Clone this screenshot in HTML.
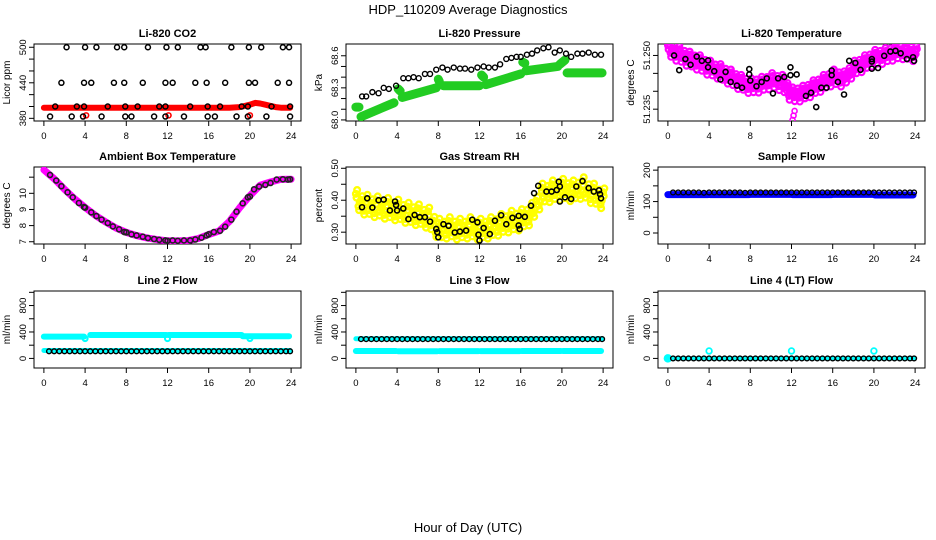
<!DOCTYPE html>
<html><head><meta charset="utf-8"><style>
html,body{margin:0;padding:0;background:#fff;}
svg{display:block;font-family:"Liberation Sans",Arial,sans-serif;}
</style></head><body>
<svg id="chart" width="936" height="540" viewBox="0 0 936 540">
<text x="468" y="14" text-anchor="middle" font-size="13">HDP_110209  Average Diagnostics</text>
<text x="468" y="532" text-anchor="middle" font-size="13">Hour of Day (UTC)</text>
</svg>
<script>
// ---- data ----
const xTicks = [0,4,8,12,16,20,24];
const quarterHours = [0,0.25,0.5,0.75,1,1.25,1.5,1.75,2,2.25,2.5,2.75,3,3.25,3.5,3.75,4,4.25,4.5,4.75,5,5.25,5.5,5.75,6,6.25,6.5,6.75,7,7.25,7.5,7.75,8,8.25,8.5,8.75,9,9.25,9.5,9.75,10,10.25,10.5,10.75,11,11.25,11.5,11.75,12,12.25,12.5,12.75,13,13.25,13.5,13.75,14,14.25,14.5,14.75,15,15.25,15.5,15.75,16,16.25,16.5,16.75,17,17.25,17.5,17.75,18,18.25,18.5,18.75,19,19.25,19.5,19.75,20,20.25,20.5,20.75,21,21.25,21.5,21.75,22,22.25,22.5,22.75,23,23.25,23.5,23.75,24];
const hours = [0,1,2,3,4,5,6,7,8,9,10,11,12,13,14,15,16,17,18,19,20,21,22,23,24];
const halfHours = [0.5,1,1.5,2,2.5,3,3.5,4,4.5,5,5.5,6,6.5,7,7.5,8,8.5,9,9.5,10,10.5,11,11.5,12,12.5,13,13.5,14,14.5,15,15.5,16,16.5,17,17.5,18,18.5,19,19.5,20,20.5,21,21.5,22,22.5,23,23.5,23.9];

// Panel 1: CO2
const co2BlackT = [2.2,4.0,5.1,7.1,7.8,10.1,11.9,13.0,15.2,15.7,18.2,19.9,21.1,23.2,23.8, 1.7,3.9,4.6,6.8,7.8,9.6,11.8,12.5,14.7,15.8,17.6,19.9,20.5,22.7,23.8, 1.1,3.2,3.9,6.2,7.9,9.1,11.2,11.8,14.2,15.9,17.1,19.2,19.8,22.1,23.9, 0.6,2.7,3.8,5.6,7.9,8.5,10.7,11.8,13.6,15.9,16.6,18.7,19.8,21.6,23.9];
const co2BlackV = [500,500,500,500,500,500,500,500,500,500,500,500,500,500,500, 440,440,440,440,440,440,440,440,440,440,440,440,440,440,440, 400,400,400,400,400,400,400,400,400,400,400,400,400,400,400, 383,383,383,383,383,383,383,383,383,383,383,383,383,383,383];
const co2RedT = [0,1,2,3,4,5,6,7,8,9,10,11,12,13,14,15,16,17,18,19,19.5,20,20.5,21,21.5,22,22.5,23,23.9];
const co2RedV = [398,398,398,398,398,398,398,398,398,398,398,398,398,398,398,398,398,398,398,399,401,403,406,405,403,401,399,398,398];
const co2OutT = [4.1,12.1,20.0];
const co2OutV = [385,385,385];

// Panel 2: Pressure
const presBlackT = [0.6,1.0,1.6,2.2,2.7,3.2,3.9,4.6,5.1,5.6,6.1,6.7,7.2,7.8,8.4,8.9,9.5,10.1,10.6,11.2,11.8,12.4,12.9,13.5,14.0,14.6,15.1,15.6,16.0,16.6,17.1,17.6,18.2,18.7,19.3,19.8,20.4,20.9,21.5,22.0,22.6,23.2,23.8];
const presBlackV = [68.22,68.22,68.26,68.25,68.30,68.29,68.32,68.39,68.39,68.40,68.39,68.43,68.43,68.47,68.49,68.47,68.49,68.48,68.48,68.47,68.49,68.50,68.49,68.49,68.52,68.57,68.58,68.59,68.59,68.61,68.62,68.65,68.67,68.68,68.63,68.65,68.62,68.59,68.62,68.62,68.63,68.61,68.61];
const presGreenStartT = [0.0,0.5,4.1,4.5,8.0,8.5,12.2,12.6,16.2,16.5,19.8,20.5];
const presGreenEndT   = [0.3,3.7,4.3,7.8,8.1,12.0,12.4,16.0,16.4,19.6,20.3,23.9];
const presGreenStartV = [68.12,68.03,68.29,68.21,68.38,68.32,68.42,68.33,68.54,68.46,68.52,68.44];
const presGreenEndV   = [68.12,68.16,68.27,68.30,68.36,68.32,68.40,68.43,68.53,68.50,68.56,68.44];

// Panel 3: Li-820 temperature
const tempMagV = [51.2528,51.2507,51.2516,51.2496,51.2515,51.2493,51.2502,51.2482,51.2500,51.2480,51.2489,51.2471,51.2490,51.2468,51.2477,51.2457,51.2475,51.2455,51.2464,51.2446,51.2465,51.2443,51.2452,51.2432,51.2450,51.2428,51.2437,51.2417,51.2435,51.2415,51.2424,51.2406,51.2425,51.2408,51.2422,51.2407,51.2430,51.2415,51.2429,51.2416,51.2440,51.2421,51.2432,51.2414,51.2435,51.2408,51.2412,51.2387,51.2400,51.2383,51.2397,51.2382,51.2405,51.2391,51.2407,51.2394,51.2420,51.2406,51.2422,51.2409,51.2435,51.2421,51.2437,51.2424,51.2450,51.2431,51.2442,51.2424,51.2445,51.2435,51.2454,51.2446,51.2475,51.2461,51.2477,51.2464,51.2490,51.2476,51.2492,51.2479,51.2505,51.2488,51.2502,51.2487,51.2510,51.2495,51.2509,51.2496,51.2520,51.2503,51.2515,51.2500,51.2522,51.2502,51.2513,51.2495,51.2515];
const tempOutT = [12.1,12.2,12.3];
const tempOutV = [51.2320,51.2332,51.2345];
const tempBlackT = [0.6,1.1,1.7,2.2,2.8,3.3,3.9,3.9,4.5,5.1,5.6,6.1,6.7,7.2,7.9,7.9,8.0,8.6,9.1,9.6,10.2,10.7,11.3,11.9,11.9,12.5,13.4,13.9,14.4,14.9,15.4,15.9,15.9,16.5,17.1,17.6,18.2,18.7,19.8,19.8,19.8,20.4,21.0,21.6,22.1,22.6,23.2,23.8,23.9];
const tempBlackV = [51.2500,51.2459,51.2490,51.2474,51.2497,51.2485,51.2486,51.2467,51.2456,51.2433,51.2454,51.2426,51.2416,51.2410,51.2462,51.2447,51.2430,51.2414,51.2426,51.2436,51.2394,51.2436,51.2440,51.2445,51.2467,51.2447,51.2387,51.2396,51.2356,51.2410,51.2410,51.2458,51.2445,51.2426,51.2391,51.2485,51.2479,51.2460,51.2490,51.2483,51.2463,51.2465,51.2499,51.2511,51.2513,51.2506,51.2490,51.2495,51.2485];

// Panel 4: Ambient box temperature
const ambMagV = [11.45,10.9,10.25,9.65,9.12,8.63,8.22,7.85,7.58,7.38,7.24,7.13,7.06,7.05,7.07,7.2,7.45,7.66,8.25,9.1,9.85,10.5,10.7,10.86,10.87];
const ambBlackT = [0.6,1.2,1.7,2.3,2.8,3.4,3.9,4.0,4.6,5.1,5.6,6.2,6.7,7.3,7.8,8.0,8.5,9.0,9.6,10.1,10.7,11.2,11.8,12.0,12.5,13.0,13.6,14.2,14.7,15.3,15.8,16.0,16.5,17.1,17.6,18.2,18.7,19.3,19.8,20.0,20.4,20.9,21.5,22.0,22.6,23.2,23.7,23.9];
const ambBlackV = [11.14,10.79,10.44,10.06,9.75,9.40,9.15,9.11,8.82,8.59,8.37,8.16,7.95,7.77,7.60,7.58,7.46,7.39,7.31,7.23,7.17,7.12,7.08,7.06,7.08,7.06,7.08,7.08,7.14,7.25,7.39,7.46,7.60,7.68,7.93,8.37,8.86,9.38,9.75,9.80,10.25,10.42,10.52,10.64,10.85,10.87,10.85,10.87];

// Panel 5: Gas stream RH
const rhYellowV = [0.420,0.381,0.401,0.367,0.405,0.369,0.391,0.359,0.400,0.364,0.386,0.354,0.395,0.359,0.381,0.349,0.390,0.353,0.373,0.341,0.380,0.344,0.366,0.334,0.375,0.338,0.358,0.326,0.365,0.321,0.336,0.297,0.330,0.296,0.321,0.292,0.335,0.299,0.321,0.289,0.330,0.296,0.321,0.292,0.335,0.299,0.321,0.289,0.330,0.296,0.321,0.292,0.335,0.303,0.328,0.301,0.345,0.313,0.338,0.311,0.355,0.321,0.346,0.317,0.360,0.330,0.358,0.333,0.380,0.360,0.398,0.383,0.440,0.408,0.433,0.406,0.450,0.416,0.441,0.412,0.455,0.419,0.441,0.409,0.450,0.418,0.443,0.416,0.460,0.420,0.438,0.403,0.440,0.401,0.421,0.387,0.425];
const rhBlackT = [0.6,1.1,1.6,2.2,2.7,3.3,3.8,3.9,4.0,4.6,5.1,5.7,6.2,6.7,7.2,7.8,7.9,8.0,8.5,9.0,9.6,10.1,10.7,11.3,11.8,11.9,12.0,12.4,13.0,13.5,14.1,14.6,15.2,15.8,15.8,15.9,16.4,17.0,17.3,17.7,18.5,19.0,19.5,19.7,19.8,19.8,20.3,20.9,21.4,22.0,22.6,23.1,23.6,23.7,23.8];
const rhBlackV = [0.378,0.406,0.377,0.400,0.402,0.368,0.396,0.385,0.368,0.374,0.341,0.354,0.347,0.347,0.333,0.310,0.300,0.284,0.325,0.320,0.299,0.302,0.305,0.339,0.331,0.292,0.274,0.313,0.294,0.336,0.353,0.325,0.345,0.351,0.321,0.310,0.348,0.383,0.422,0.445,0.427,0.427,0.432,0.458,0.443,0.396,0.409,0.404,0.443,0.460,0.438,0.427,0.431,0.419,0.406];

// Panel 6: Sample flow
const sampleBlueStartT = [0.0,4.1,8.1,12.1,16.1,20.1];
const sampleBlueEndT   = [3.9,7.9,11.9,15.9,19.9,23.8];
const sampleBlueV      = [122,122,123,122,123,121];
const sampleBlackV = [129,129,129,129,129,129,128,129,129,129,129,129,129,129,128,129,129,129,129,129,129,129,129,129,129,129,129,129,129,129,129,129,129,129,129,129,129,129,129,129,129,129,129,129,129,129,129,129];

// Panel 7: Line 2 flow
const l2CyanStartT = [0.0,4.5,8.0,12.1,16.0,19.3];
const l2CyanEndT   = [3.9,7.9,11.9,15.9,19.2,23.8];
const l2CyanV      = [330,355,355,355,355,335];
const l2LowStartT = [0.0];
const l2LowEndT   = [23.9];
const l2LowV      = [120];
const l2DipT = [4.0,12.0,20.0];
const l2DipV = [300,300,300];
const l2BlackV = [108,108,108,108,108,108,108,108,108,108,108,108,108,108,108,108,108,108,108,108,108,108,108,108,108,108,108,108,108,108,108,108,108,108,108,108,108,108,108,108,108,108,108,108,108,108,108,108];

// Panel 8: Line 3 flow
const l3LowStartT = [0.0,4.1,8.1,12.1,16.1,20.1];
const l3LowEndT   = [3.9,7.9,11.9,15.9,19.9,23.8];
const l3LowV      = [112,108,110,110,112,112];
const l3UpStartT = [0.0];
const l3UpEndT   = [23.9];
const l3UpV      = [298];
const l3BlackV = [292,292,292,292,292,292,292,292,292,292,292,292,292,292,292,292,292,292,292,292,292,292,292,292,292,292,292,292,292,292,292,292,292,292,292,292,292,292,292,292,292,292,292,292,292,292,292,292];

// Panel 9: Line 4 flow
const l4OutT = [4.0,12.0,20.0];
const l4OutV = [113,113,113];
const l4StartT = [0.0];
const l4StartV = [0];
const l4BlackV = [0,0,0,0,0,0,0,0,0,0,0,0,0,0,0,0,0,0,0,0,0,0,0,0,0,0,0,0,0,0,0,0,0,0,0,0,0,0,0,0,0,0,0,0,0,0,0,0];

// y-axis ticks / labels per panel
const co2Ticks = [380,400,420,440,460,480,500];
const co2Labels = ["380","440","500"];
const presTicks = [68.0,68.1,68.2,68.3,68.4,68.5,68.6];
const presLabels = ["68.0","68.3","68.6"];
const tempTicks = [51.235,51.240,51.245,51.250];
const tempLabels = ["51.235","51.250"];
const ambTicks = [7,8,9,10,11];
const ambLabels = ["7","8","9","10"];
const rhTicks = [0.30,0.35,0.40,0.45,0.50];
const rhLabels = ["0.30","0.40","0.50"];
const sfTicks = [0,50,100,150,200];
const sfLabels = ["0","100","200"];
const flowTicks = [0,200,400,600,800,1000];
const flowLabels = ["0","400","800"];

// ---- drawing ----
const svg = document.getElementById('chart');
const NS = 'http://www.w3.org/2000/svg';
function mk(tag, attrs, parent){
  const e = document.createElementNS(NS, tag);
  for (const k in attrs) e.setAttribute(k, attrs[k]);
  (parent||svg).appendChild(e);
  return e;
}
const colLeft = [34,346,658], W = 267;
const rowTop = [44,167,291], H = 77;

function makePanel(row,col,title,ylab,ymin,ymax,ticks,labels,nameKey){
  const L = colLeft[col], T = rowTop[row];
  const g = mk('g',{});
  
  
  const p = {g, L, T,
    x: t => L + (t + 0.96) / 25.92 * W,
    y: v => T + H - (v - ymin) / (ymax - ymin) * H};
  const box = mk('rect',{x:L,y:T,width:W,height:H,fill:'none',stroke:'#000','stroke-width':1},g);
  
  
  const tt = mk('text',{x:L+W/2,y:T-7,'text-anchor':'middle','font-size':11,'font-weight':'bold'},g);
  tt.textContent = title;
  
  
  mk('line',{x1:p.x(xTicks[0]),x2:p.x(xTicks[xTicks.length-1]),y1:T+H,y2:T+H,stroke:'#000'},g);
  xTicks.forEach(t=>{
    mk('line',{x1:p.x(t),x2:p.x(t),y1:T+H,y2:T+H+5,stroke:'#000'},g);
    const lb = mk('text',{x:p.x(t),y:T+H+18,'text-anchor':'middle','font-size':9.5},g);
    lb.textContent = String(t);
    
    
  });
  ticks.forEach(v=>{
    mk('line',{x1:L-5,x2:L,y1:p.y(v),y2:p.y(v),stroke:'#000'},g);
  });
  labels.forEach(s=>{
    const v = parseFloat(s);
    const yy = p.y(v);
    const lb = mk('text',{x:L-8,y:yy,'text-anchor':'middle','font-size':9.5,transform:`rotate(-90 ${L-8} ${yy})`},g);
    lb.textContent = s;
    
    
  });
  const yt = T + H/2;
  const yl = mk('text',{x:L-24,y:yt,'text-anchor':'middle','font-size':10,transform:`rotate(-90 ${L-24} ${yt})`},g);
  yl.textContent = ylab;
  
  
  const clip = mk('clipPath',{id:'clip-'+nameKey},g);
  mk('rect',{x:L,y:T,width:W,height:H},clip);
  p.plot = mk('g',{'clip-path':`url(#clip-${nameKey})`},g);
  return p;
}
function points(p, ts, vs, color, r, sw, name){
  ts.forEach((t,i)=>{
    if (vs[i] === undefined) return;
    const c = mk('circle',{cx:p.x(t),cy:p.y(vs[i]),r:r,fill:'none',stroke:color,'stroke-width':sw},p.plot);
    
    
  });
}
function segs(p, st, et, sv, ev, color, w, name){
  st.forEach((s,i)=>{
    const l = mk('line',{x1:p.x(s),x2:p.x(et[i]),y1:p.y(sv[i]),y2:p.y(ev[i]),stroke:color,'stroke-width':w,'stroke-linecap':'round'},p.plot);
    
    
  });
}
function line(p, ts, vs, color, w, name){
  const d = ts.map((t,i)=>(i?'L':'M')+p.x(t).toFixed(1)+' '+p.y(vs[i]).toFixed(1)).join(' ');
  const l = mk('path',{d:d,fill:'none',stroke:color,'stroke-width':w,'stroke-linecap':'round','stroke-linejoin':'round'},p.plot);
  
  
}
const BK = '#000';

// Panel 1
let p = makePanel(0,0,'Li-820 CO2','Licor ppm',375.5,505.5,co2Ticks,co2Labels,'co2');
line(p, co2RedT, co2RedV, '#ff0000', 6, 'co2-red-series');
points(p, co2OutT, co2OutV, '#ff0000', 2.5, 1.6, 'co2-red-outlier');
points(p, co2BlackT, co2BlackV, BK, 2.5, 1.5, 'co2-black-point');

// Panel 2
p = makePanel(0,1,'Li-820 Pressure','kPa',67.99,68.71,presTicks,presLabels,'pressure');
segs(p, presGreenStartT, presGreenEndT, presGreenStartV, presGreenEndV, '#22cc22', 9, 'pressure-green-series');
points(p, presBlackT, presBlackV, BK, 2.5, 1.4, 'pressure-black-point');

// Panel 3
p = makePanel(0,2,'Li-820 Temperature','degrees C',51.2317,51.2532,tempTicks,tempLabels,'li820-temp');
points(p, quarterHours, tempMagV, '#ff00ff', 2.8, 2.2, 'temp-magenta-point');
points(p, quarterHours.map(t=>t+0.12), tempMagV.map(v=>v+0.0011), '#ff00ff', 2.8, 2.2, 'temp-magenta-point');
points(p, quarterHours.map(t=>t+0.06), tempMagV.map(v=>v-0.0011), '#ff00ff', 2.8, 2.2, 'temp-magenta-point');
points(p, quarterHours.map(t=>t+0.18), tempMagV.map(v=>v+0.0003), '#ff00ff', 2.8, 2.2, 'temp-magenta-point');
points(p, tempOutT, tempOutV, '#ff00ff', 2.5, 1.6, 'temp-magenta-outlier');
points(p, tempBlackT, tempBlackV, BK, 2.5, 1.6, 'temp-black-point');

// Panel 4
p = makePanel(1,0,'Ambient Box Temperature','degrees C',6.86,11.63,ambTicks,ambLabels,'ambient');
line(p, hours, ambMagV, '#ff00ff', 7, 'ambient-magenta-series');
points(p, ambBlackT, ambBlackV, '#222', 2.5, 1.6, 'ambient-black-point');

// Panel 5
p = makePanel(1,1,'Gas Stream RH','percent',0.263,0.504,rhTicks,rhLabels,'rh');
points(p, quarterHours, rhYellowV, '#ffff00', 2.8, 2.4, 'rh-yellow-point');
points(p, quarterHours.map(t=>t+0.12), rhYellowV.map(v=>v+0.012), '#ffff00', 2.8, 2.4, 'rh-yellow-point');
points(p, quarterHours.map(t=>t+0.06), rhYellowV.map(v=>v-0.012), '#ffff00', 2.8, 2.4, 'rh-yellow-point');
points(p, rhBlackT, rhBlackV, BK, 2.5, 1.6, 'rh-black-point');

// Panel 6
p = makePanel(1,2,'Sample Flow','ml/min',-35,210,sfTicks,sfLabels,'sample-flow');
segs(p, sampleBlueStartT, sampleBlueEndT, sampleBlueV, sampleBlueV, '#0000ff', 7, 'sample-blue-series');
points(p, halfHours, sampleBlackV, BK, 2.4, 1.3, 'sample-black-point');

// Panel 7
p = makePanel(2,0,'Line 2 Flow','ml/min',-145,1020,flowTicks,flowLabels,'line2');
segs(p, l2CyanStartT, l2CyanEndT, l2CyanV, l2CyanV, '#00ffff', 6, 'line2-cyan-upper');
points(p, l2DipT, l2DipV, '#00ffff', 2.5, 2, 'line2-cyan-dip');
segs(p, l2LowStartT, l2LowEndT, l2LowV, l2LowV, '#00ffff', 5, 'line2-cyan-lower');
points(p, halfHours, l2BlackV, BK, 2.4, 1.4, 'line2-black-point');

// Panel 8
p = makePanel(2,1,'Line 3 Flow','ml/min',-145,1020,flowTicks,flowLabels,'line3');
segs(p, l3LowStartT, l3LowEndT, l3LowV, l3LowV, '#00ffff', 6, 'line3-cyan-lower');
segs(p, l3UpStartT, l3UpEndT, l3UpV, l3UpV, '#00ffff', 5, 'line3-cyan-upper');
points(p, halfHours, l3BlackV, BK, 2.4, 1.4, 'line3-black-point');

// Panel 9
p = makePanel(2,2,'Line 4 (LT) Flow','ml/min',-145,1020,flowTicks,flowLabels,'line4');
segs(p, [0.0], [23.9], [0], [0], '#00ffff', 4, 'line4-cyan-series');
points(p, l4StartT, l4StartV, '#00ffff', 3, 2.5, 'line4-cyan-start');
points(p, l4OutT, l4OutV, '#00ffff', 2.8, 1.8, 'line4-cyan-outlier');
points(p, halfHours, l4BlackV, BK, 2.4, 1.4, 'line4-black-point');
</script>
</body></html>
